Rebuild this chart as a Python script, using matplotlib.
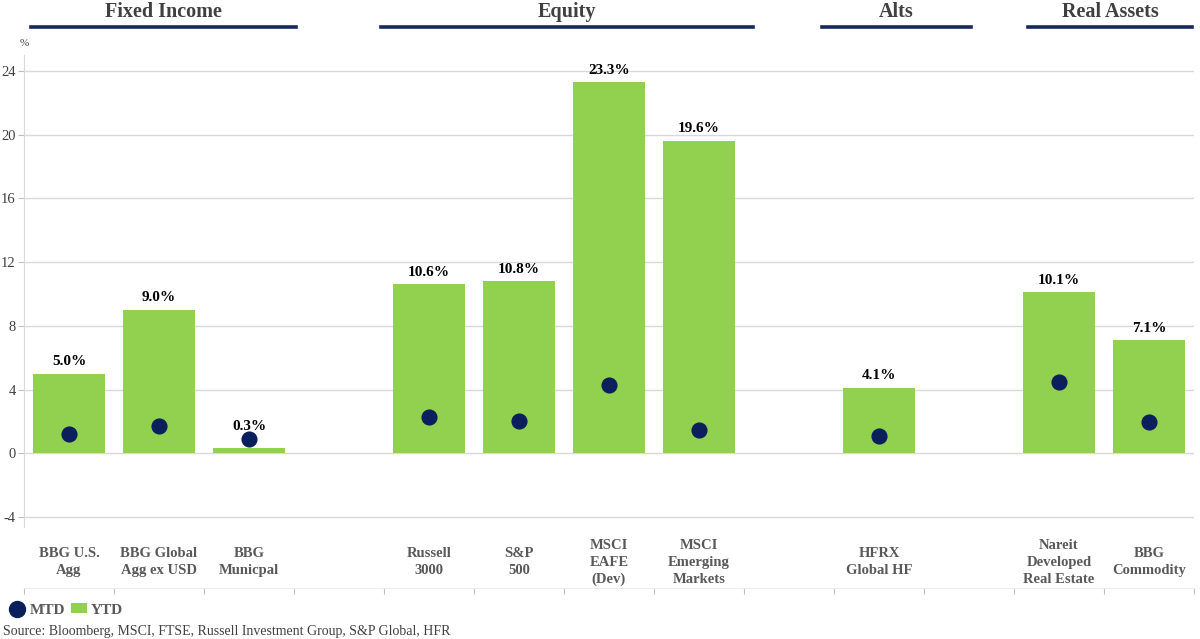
import matplotlib
matplotlib.use("Agg")
import matplotlib.pyplot as plt
from matplotlib.lines import Line2D
from matplotlib.patches import Patch

plt.rcParams['font.family'] = ['Liberation Serif', 'DejaVu Serif']
plt.rcParams['axes.unicode_minus'] = False

# ---- data ----
categories = ["BBG U.S.\nAgg", "BBG Global\nAgg ex USD", "BBG\nMunicpal", "",
              "Russell\n3000", "S&P\n500", "MSCI\nEAFE\n(Dev)", "MSCI\nEmerging\nMarkets", "",
              "HFRX\nGlobal HF", "",
              "Nareit\nDeveloped\nReal Estate", "BBG\nCommodity"]
ytd = [5.0, 9.0, 0.3, None, 10.6, 10.8, 23.3, 19.6, None, 4.1, None, 10.1, 7.1]
mtd = [1.2, 1.7, 0.9, None, 2.3, 2.05, 4.3, 1.45, None, 1.1, None, 4.45, 1.95]
groups = ["Fixed Income", "Equity", "Alts", "Real Assets"]
yticks = [-4, 0, 4, 8, 12, 16, 20, 24]
source = "Source: Bloomberg, MSCI, FTSE, Russell Investment Group, S&P Global, HFR"

GREEN = "#92D050"
NAVY = "#0B1F5C"
LINE_NAVY = "#14295E"
GRAY = "#595959"
DARK = "#404040"

W, H = 1200, 639
fig = plt.figure(figsize=(W / 100, H / 100), dpi=100)

def fx(px):
    return px / W

def fy(py):
    return 1 - py / H

ax = fig.add_axes([fx(24), fy(588), fx(1194) - fx(24), fy(55) - fy(588)])
ymax = 25.0
ymin = ymax - (588 - 55) / 15.93
ax.set_ylim(ymin, ymax)
ax.set_xlim(-0.5, len(categories) - 0.5)

xs = list(range(len(categories)))
bx = [x for x, v in zip(xs, ytd) if v is not None]
bv = [v for v in ytd if v is not None]
mv = [v for v in mtd if v is not None]

ax.set_axisbelow(True)
ax.set_yticks(yticks)
ax.yaxis.grid(True, color="#D9D9D9", linewidth=1)
ax.tick_params(axis='y', length=4, color="#BFBFBF", labelsize=10.5, labelcolor=DARK, pad=2)

bars = ax.bar(bx, bv, width=0.8, color=GREEN, zorder=2)
ax.scatter(bx, mv, s=135, color=NAVY, zorder=3, linewidths=0)

for x, y, m in zip(bx, bv, mv):
    top = max(y, m)
    ax.annotate(f"{y:.1f}%", (x, top), xytext=(0, 4), textcoords="offset points",
                ha="center", va="bottom", fontsize=11, fontweight="bold", color="black")

# category labels
for x, c in zip(xs, categories):
    if c:
        ax.text(x, -6.85, c, ha="center", va="center", fontsize=10.5, fontweight="bold",
                color=GRAY, linespacing=1.4)

# x axis ticks at slot boundaries
ax.set_xticks([x - 0.5 for x in range(len(categories) + 1)])
ax.set_xticklabels([])
ax.tick_params(axis='x', length=4, color="#BFBFBF", direction="out")

for s in ["top", "right"]:
    ax.spines[s].set_visible(False)
ax.spines["left"].set_bounds(-4.6, ymax)
ax.spines["left"].set_color("#D9D9D9")
ax.spines["bottom"].set_color("#EDEDED")

fig.text(fx(24), fy(43), "%", ha="center", va="center", fontsize=8, color=DARK)

# group headers
header_spans = [(31, 296), (381, 753), (822, 971), (1028, 1192)]
for name, (a, b) in zip(groups, header_spans):
    fig.add_artist(Line2D([fx(a), fx(b)], [fy(27), fy(27)], color=LINE_NAVY, linewidth=2.6,
                          transform=fig.transFigure))
    fig.text((fx(a) + fx(b)) / 2, fy(12), name, ha="center", va="center", fontsize=14.5,
             fontweight="bold", color=DARK)

# legend
handles = [Line2D([], [], marker='o', linestyle='none', markersize=11.5, color=NAVY, label="MTD"),
           Patch(facecolor=GREEN, label="YTD")]
leg = fig.legend(handles=handles, loc="center left", bbox_to_anchor=(fx(-4), fy(610)), ncol=2,
                 frameon=False, handlelength=1.0, handleheight=0.6, handletextpad=0.3,
                 columnspacing=0.4, prop={"weight": "bold", "size": 11})
for t in leg.get_texts():
    t.set_color(GRAY)

fig.text(fx(3), fy(631), source, ha="left", va="center", fontsize=10, color=DARK)

fig.savefig("out.png", dpi=100)
